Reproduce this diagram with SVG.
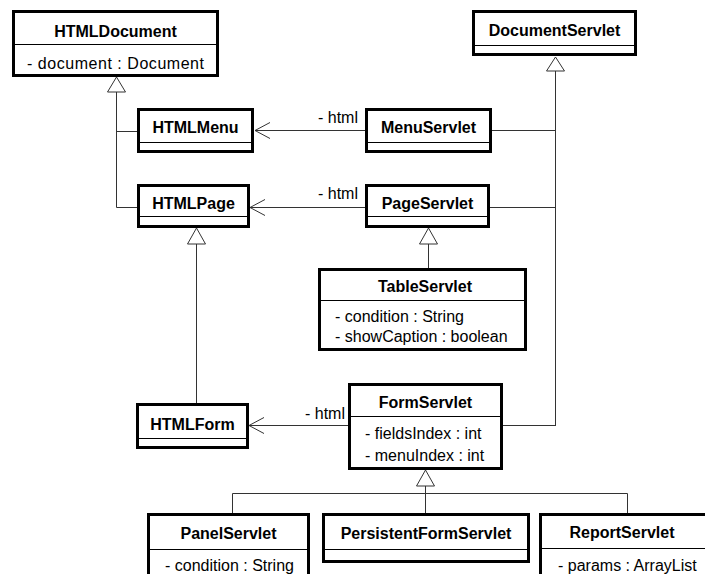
<svg xmlns="http://www.w3.org/2000/svg" width="705" height="574" viewBox="0 0 705 574">
<style>
.box{fill:#fff;stroke:#000;stroke-width:3}
.div{stroke:#000;stroke-width:1}
.t{font-family:"Liberation Sans",Arial,sans-serif;font-size:16px;font-weight:bold;text-anchor:middle;fill:#000}
.a{font-family:"Liberation Sans",Arial,sans-serif;font-size:16px;fill:#000}
.lbl{font-family:"Liberation Sans",Arial,sans-serif;font-size:16px;fill:#000;text-anchor:end}
.c{fill:none;stroke:#333;stroke-width:1}
.tri{fill:#fff;stroke:#333;stroke-width:1}
</style>
<rect width="705" height="574" fill="#fff"/>
<g id="connectors">
  <polyline class="c" points="116.5,92 116.5,207.5 137,207.5"/>
  <line class="c" x1="116.5" y1="131.5" x2="137" y2="131.5"/>
  <polygon class="tri" points="116.5,77 107.5,92 125.5,92"/>
  <line class="c" x1="555.5" y1="71" x2="555.5" y2="426"/>
  <line class="c" x1="492" y1="130.5" x2="555.5" y2="130.5"/>
  <line class="c" x1="490" y1="207.5" x2="555.5" y2="207.5"/>
  <line class="c" x1="503" y1="425.5" x2="555.5" y2="425.5"/>
  <polygon class="tri" points="555.5,57 546.5,71 564.5,71"/>
  <line class="c" x1="428.5" y1="244" x2="428.5" y2="268"/>
  <polygon class="tri" points="428.5,228 419.5,244 437.5,244"/>
  <line class="c" x1="196.5" y1="244" x2="196.5" y2="403"/>
  <polygon class="tri" points="196.5,228 187.5,244 205.5,244"/>
  <line class="c" x1="425.5" y1="486" x2="425.5" y2="513"/>
  <polyline class="c" points="232.5,513 232.5,493.5 627.5,493.5 627.5,513"/>
  <polygon class="tri" points="425.5,470 416.5,486 434.5,486"/>
  <line class="c" x1="365" y1="130.5" x2="255" y2="130.5"/>
  <polyline class="c" points="270,122.5 255,130.5 270,138.5"/>
  <text class="lbl" x="358" y="123">- html</text>
  <line class="c" x1="365" y1="207.5" x2="250" y2="207.5"/>
  <polyline class="c" points="265,199.5 250,207.5 265,215.5"/>
  <text class="lbl" x="358" y="199">- html</text>
  <line class="c" x1="348" y1="425.5" x2="249" y2="425.5"/>
  <polyline class="c" points="264,417.5 249,425.5 264,433.5"/>
  <text class="lbl" x="345" y="419">- html</text>
</g>
<g id="HTMLDocument">
  <rect class="box" x="13.5" y="11.5" width="204" height="64"/>
  <line class="div" x1="13" y1="44.5" x2="218" y2="44.5"/>
  <text class="t" x="115.5" y="37">HTMLDocument</text>
  <text class="a" x="27" y="69" textLength="177" lengthAdjust="spacing">- document : Document</text>
</g>
<g id="DocumentServlet">
  <rect class="box" x="473.5" y="11.5" width="162" height="43"/>
  <line class="div" x1="473" y1="45.5" x2="636" y2="45.5"/>
  <text class="t" x="554.5" y="36">DocumentServlet</text>
</g>
<g id="HTMLMenu">
  <rect class="box" x="138.5" y="109.5" width="114" height="42"/>
  <line class="div" x1="138" y1="142.5" x2="253" y2="142.5"/>
  <text class="t" x="195.5" y="133">HTMLMenu</text>
</g>
<g id="MenuServlet">
  <rect class="box" x="366.5" y="109.5" width="124" height="42"/>
  <line class="div" x1="366" y1="142.5" x2="491" y2="142.5"/>
  <text class="t" x="428.5" y="133">MenuServlet</text>
</g>
<g id="HTMLPage">
  <rect class="box" x="138.5" y="185.5" width="110" height="41"/>
  <line class="div" x1="138" y1="216.5" x2="249" y2="216.5"/>
  <text class="t" x="193.5" y="209">HTMLPage</text>
</g>
<g id="PageServlet">
  <rect class="box" x="366.5" y="185.5" width="122" height="41"/>
  <line class="div" x1="366" y1="216.5" x2="489" y2="216.5"/>
  <text class="t" x="427.5" y="209">PageServlet</text>
</g>
<g id="TableServlet">
  <rect class="box" x="319.5" y="269.5" width="206" height="80"/>
  <line class="div" x1="319" y1="300.5" x2="526" y2="300.5"/>
  <text class="t" x="425" y="292">TableServlet</text>
  <text class="a" x="335" y="322">- condition : String</text>
  <text class="a" x="335" y="342">- showCaption : boolean</text>
</g>
<g id="HTMLForm">
  <rect class="box" x="137.5" y="404.5" width="110" height="43"/>
  <line class="div" x1="137" y1="438.5" x2="248" y2="438.5"/>
  <text class="t" x="192.5" y="430">HTMLForm</text>
</g>
<g id="FormServlet">
  <rect class="box" x="349.5" y="384.5" width="152" height="84"/>
  <line class="div" x1="349" y1="416.5" x2="502" y2="416.5"/>
  <text class="t" x="425.5" y="408">FormServlet</text>
  <text class="a" x="365" y="439">- fieldsIndex : int</text>
  <text class="a" x="365" y="461">- menuIndex : int</text>
</g>
<g id="PanelServlet">
  <rect class="box" x="148.5" y="514.5" width="160" height="74"/>
  <line class="div" x1="148" y1="549.5" x2="309" y2="549.5"/>
  <text class="t" x="228.5" y="539">PanelServlet</text>
  <text class="a" x="165" y="571">- condition : String</text>
</g>
<g id="PersistentFormServlet">
  <rect class="box" x="323.5" y="514.5" width="205" height="47"/>
  <line class="div" x1="323" y1="549.5" x2="529" y2="549.5"/>
  <text class="t" x="426" y="539">PersistentFormServlet</text>
</g>
<g id="ReportServlet">
  <rect class="box" x="540.5" y="514.5" width="168" height="74"/>
  <line class="div" x1="540" y1="548.5" x2="710" y2="548.5"/>
  <text class="t" x="622" y="538">ReportServlet</text>
  <text class="a" x="558" y="571">- params : ArrayList</text>
</g>
</svg>
